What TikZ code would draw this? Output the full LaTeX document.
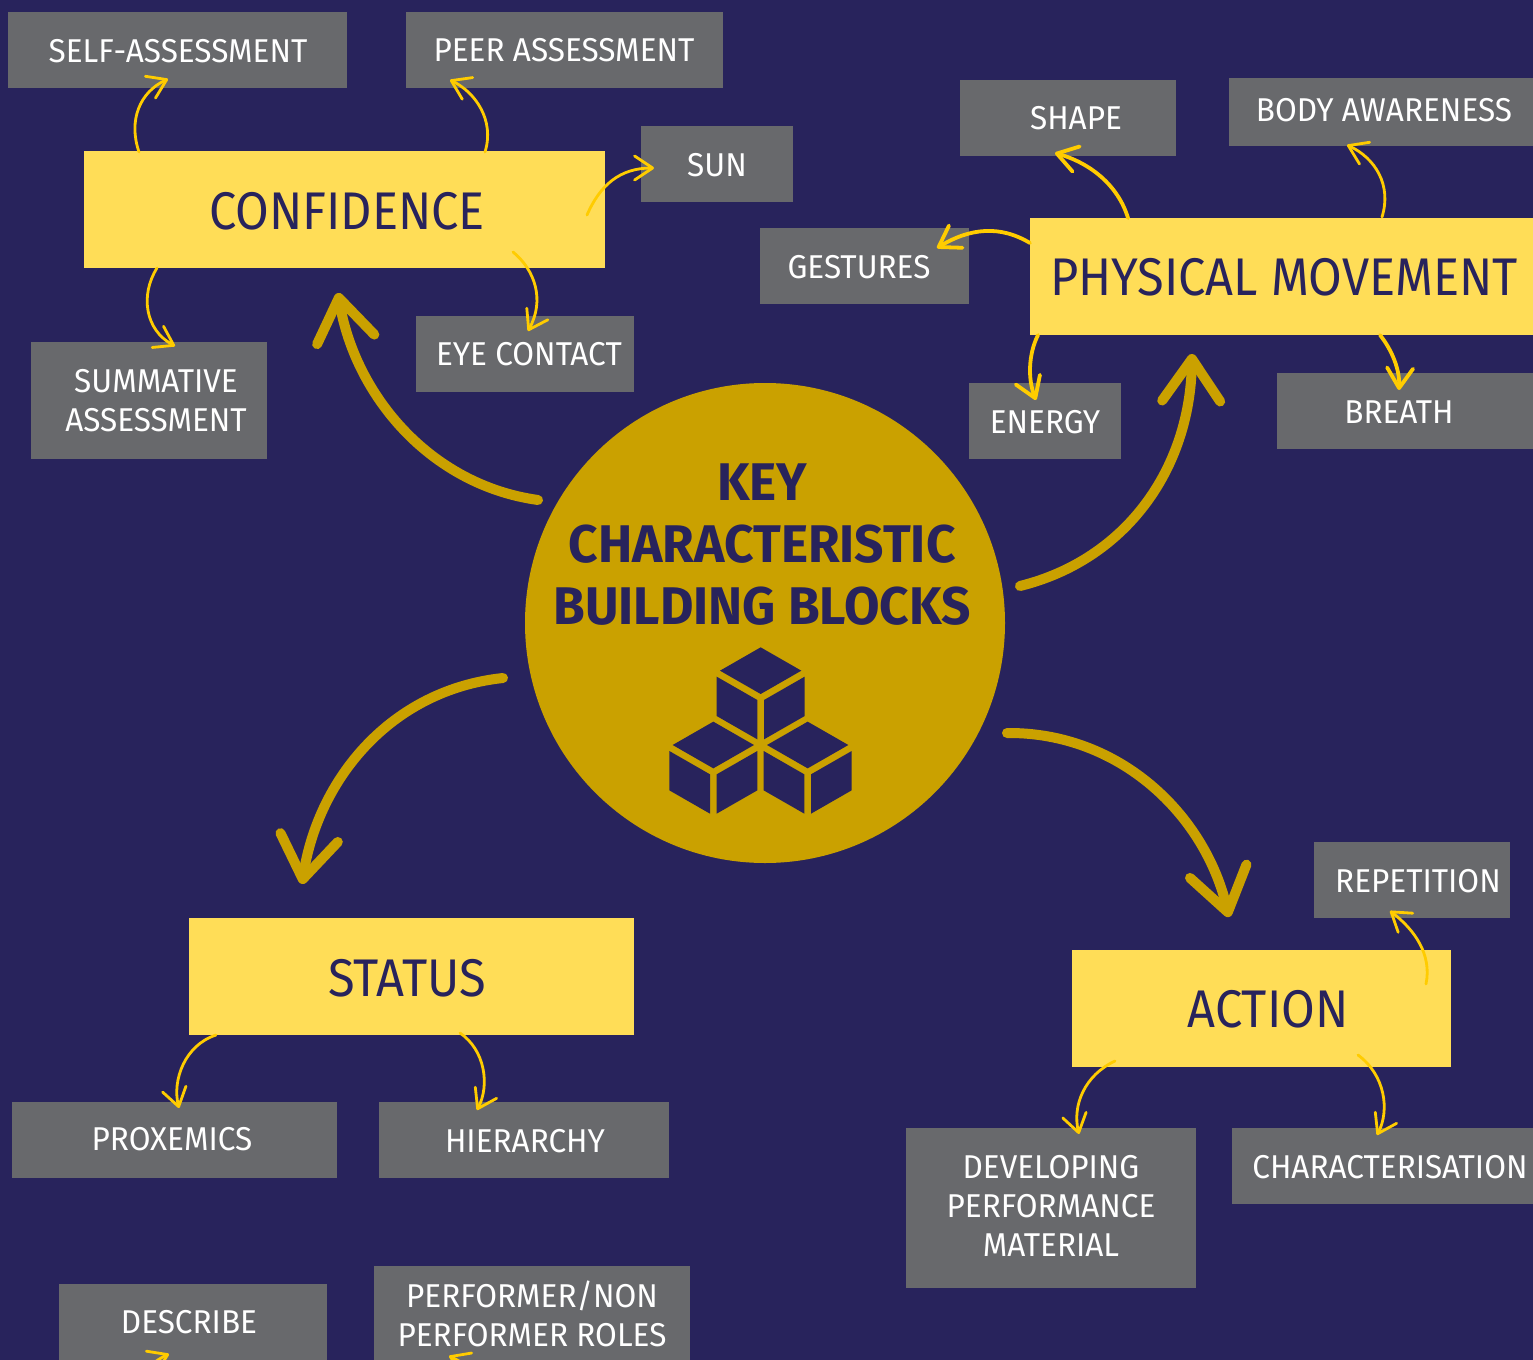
\documentclass[tikz,border=0pt]{standalone}
\usepackage{fontspec}
\setmainfont{Fira Sans}[FakeStretch=0.955,BoldFeatures={FakeStretch=0.97}]
\newfontfamily\bigfam{Fira Sans}[FakeStretch=0.92]
\usetikzlibrary{arrows.meta}
\definecolor{bgc}{HTML}{28235C}
\definecolor{greyc}{HTML}{68696C}
\definecolor{yellowc}{HTML}{FFDD57}
\definecolor{goldc}{HTML}{CAA100}
\definecolor{linkc}{HTML}{FFCC00}
\newcommand{\smallf}{\fontsize{16.5}{19.5}\selectfont}
\newcommand{\bigf}{\bigfam\fontsize{26.5}{31}\selectfont}
\newcommand{\midf}{\fontsize{26.5}{31}\selectfont\bfseries}
% \bx{name}{style}{x1}{y1}{x2}{y2}
\newcommand{\bx}[6]{\node[#2,minimum width={(#5-#3)*0.5pt},minimum height={(#6-#4)*0.5pt}] (#1) at ({(#3+#5)/2},{(#4+#6)/2}) {};}
\newcommand{\lnk}[6]{\coordinate (#2-a) at (#3);\coordinate (#2-b) at (#6);\draw[#1] (#2-a) .. controls (#4) and (#5) .. (#2-b);}
\newcommand{\cubeface}[2]{\begin{scope}[shift={(640+#1/3,620+#2/3)},x=0.16667pt,y=-0.16667pt]
\fill[bgc] (362,82)--(484,152)--(362,222)--(240,152)--cycle;
\fill[bgc] (230,170)--(352,240)--(352,358)--(230,288)--cycle;
\fill[bgc] (494,170)--(372,240)--(372,358)--(494,288)--cycle;
\end{scope}}
\tikzset{
 greybox/.style={fill=greyc,draw=none,inner sep=0pt},
 yellowbox/.style={fill=yellowc,draw=none,inner sep=0pt},
 gtext/.style={text=white,font=\smallf,align=center,inner sep=0pt},
 ytext/.style={text=bgc,font=\bigf,align=center,inner sep=0pt},
 thinlink/.style={draw=linkc,line width=1.4pt,line cap=round,line join=round,-{Straight Barb[length=9pt,width=12pt,round]}},
 midlink/.style={draw=linkc,line width=1.9pt,line cap=round,line join=round,-{Straight Barb[length=10pt,width=13pt,round]}},
 biglink/.style={draw=goldc,line width=5pt,line cap=round,line join=round,-{Straight Barb[length=21pt,width=29pt,round]}},
}
\begin{document}
\begin{tikzpicture}[x=0.5pt,y=-0.5pt]
\useasboundingbox (0,0) rectangle (1533,1360);
\clip (0,0) rectangle (1533,1360);
\fill[bgc] (0,0) rectangle (1533,1360);
% boxes
\bx{self}{greybox}{8}{12}{347}{88}
\bx{peer}{greybox}{406}{12}{723}{88}
\bx{conf}{yellowbox}{84}{151}{605}{268}
\bx{sun}{greybox}{641}{126}{793}{202}
\bx{eye}{greybox}{416}{316}{634}{392}
\bx{summ}{greybox}{31}{342}{267}{459}
\bx{shape}{greybox}{960}{80}{1176}{156}
\bx{body}{greybox}{1229}{78}{1540}{146}
\bx{gest}{greybox}{760}{228}{969}{304}
\bx{pm}{yellowbox}{1030}{218}{1540}{335}
\bx{energy}{greybox}{969}{383}{1121}{459}
\bx{breath}{greybox}{1277}{373}{1540}{449}
\bx{status}{yellowbox}{189}{918}{634}{1035}
\bx{action}{yellowbox}{1072}{950}{1451}{1067}
\bx{rep}{greybox}{1314}{842}{1510}{918}
\bx{prox}{greybox}{12}{1102}{337}{1178}
\bx{hier}{greybox}{379}{1102}{669}{1178}
\bx{desc}{greybox}{59}{1284}{327}{1400}
\bx{perf}{greybox}{374}{1266}{690}{1400}
\bx{dev}{greybox}{906}{1128}{1196}{1288}
\bx{char}{greybox}{1232}{1128}{1540}{1204}
% circle
\node[circle,fill=goldc,minimum size=240pt,inner sep=0pt] (hub) at (765,623) {};
\cubeface{0}{0}
\cubeface{-142}{223}
\cubeface{141}{223}
% labels
\node[gtext] (self-t) at (178,51) {SELF-ASSESSMENT};
\node[gtext] (peer-t) at (564,50) {PEER ASSESSMENT};
\node[ytext] (conf-t) at (347,211) {CONFIDENCE};
\node[gtext] (sun-t) at (717,165) {SUN};
\node[gtext] (eye-t) at (529,354) {EYE CONTACT};
\node[gtext] (summ-t) at (156,401) {SUMMATIVE\\ASSESSMENT};
\node[gtext] (shape-t) at (1076,118) {SHAPE};
\node[gtext] (body-t) at (1384,110) {BODY AWARENESS};
\node[gtext] (gest-t) at (859,267) {GESTURES};
\node[ytext] (pm-t) at (1284,277) {PHYSICAL MOVEMENT};
\node[gtext] (energy-t) at (1045,422) {ENERGY};
\node[gtext] (breath-t) at (1399,412) {BREATH};
\node[ytext] (status-t) at (407,978) {STATUS};
\node[ytext] (action-t) at (1268,1009) {ACTION};
\node[gtext] (rep-t) at (1418,881) {REPETITION};
\node[gtext] (prox-t) at (172,1139) {PROXEMICS};
\node[gtext] (hier-t) at (525,1141) {HIERARCHY};
\node[gtext] (desc-t) at (189,1322) {DESCRIBE};
\node[gtext] (perf-t) at (532,1314) {PERFORMER/NON\\PERFORMER ROLES};
\node[gtext] (dev-t) at (1051,1206) {DEVELOPING\\PERFORMANCE\\MATERIAL};
\node[gtext] (char-t) at (1390,1167) {CHARACTERISATION};
\node[text=bgc,font=\midf,align=center,inner sep=0pt] (hub-t) at (762,545) {KEY\\CHARACTERISTIC\\BUILDING BLOCKS};
% thin links
\lnk{thinlink}{l1}{139,152}{128,120}{140,92}{168,79}
\lnk{thinlink}{l2}{485,152}{495,120}{475,92}{450,80}
\lnk{thinlink}{l3}{587,215}{600,185}{620,168}{654,168}
\lnk{thinlink}{l4}{513,252}{535,270}{545,300}{528,331}
\lnk{thinlink}{l5}{157,268}{140,295}{145,330}{175,346}
\lnk{midlink}{l6}{1128,218}{1118,185}{1090,163}{1055,153}
\lnk{thinlink}{l7}{1382,217}{1392,185}{1375,158}{1347,145}
\lnk{midlink}{l8}{1030,243}{1000,225}{970,228}{937,248}
\lnk{midlink}{l9}{1038,335}{1028,355}{1028,380}{1036,400}
\lnk{midlink}{l10}{1380,335}{1392,350}{1400,370}{1399,390}
\lnk{thinlink}{l11}{1426,984}{1432,955}{1415,930}{1390,911}
\lnk{thinlink}{l12}{1115,1061}{1085,1075}{1072,1105}{1079,1134}
\lnk{thinlink}{l13}{1358,1055}{1385,1075}{1390,1110}{1377,1135}
\lnk{thinlink}{l14}{216,1035}{185,1045}{172,1080}{179,1108}
\lnk{thinlink}{l15}{460,1033}{485,1050}{490,1085}{477,1110}
\lnk{thinlink}{l16}{125,1420}{125,1390}{145,1365}{169,1354}
\lnk{thinlink}{l17}{490,1430}{495,1395}{480,1370}{449,1356}
% big links
\lnk{biglink}{b1}{538,500}{430,485}{355,395}{338,293}
\lnk{biglink}{b2}{1020,586}{1125,560}{1190,470}{1192,354}
\lnk{biglink}{b3}{503,678}{390,690}{318,780}{302,884}
\lnk{biglink}{b4}{1007,733}{1120,732}{1205,815}{1229,917}
\end{tikzpicture}
\end{document}
